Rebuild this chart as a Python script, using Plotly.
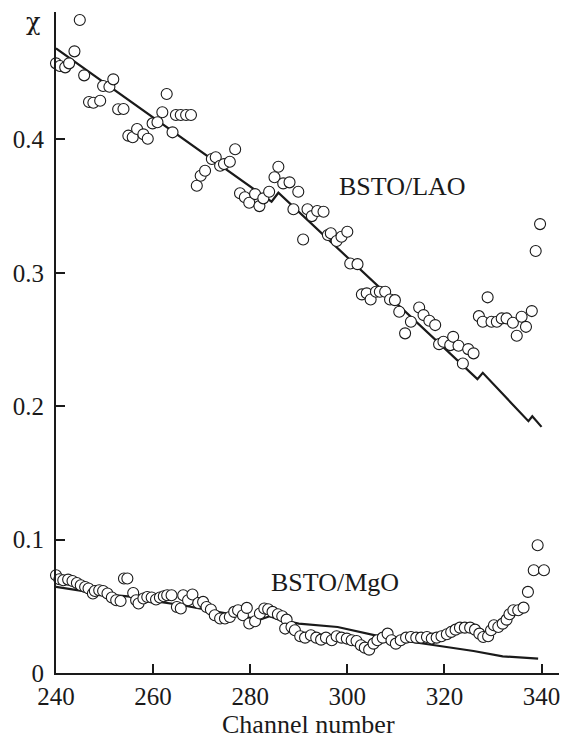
import plotly.graph_objects as go

# ---- BSTO/LAO measured points (channel, chi) ----
lao_ch = [240.0, 240.8, 241.9, 242.7, 243.8, 244.9, 245.8, 246.8, 247.7, 249.1,
          249.7, 251.0, 251.8, 252.8, 253.9, 254.9, 255.8, 256.7, 258.0, 258.9,
          259.9, 260.9, 261.9, 262.8, 264.0, 264.7, 265.7, 266.8, 267.8, 269.0,
          269.8, 270.7, 272.1, 272.9, 273.8, 274.6, 275.8, 276.9, 277.9, 278.9,
          279.8, 281.0, 281.9, 282.7, 283.9, 285.0, 285.8, 286.8, 288.1, 289.9,
          288.9, 290.9, 291.8, 292.7, 293.8, 295.1, 296.0, 296.6, 297.8, 298.8,
          300.0, 300.6, 302.1, 303.0, 304.0, 304.8, 305.9, 306.7, 307.8, 308.8,
          309.8, 310.7, 311.9, 313.1, 314.8, 315.7, 316.9, 318.1, 318.9, 319.8,
          321.2, 321.8, 322.9, 323.8, 324.9, 326.0, 327.1, 327.9, 328.9, 329.7,
          330.8, 331.8, 332.8, 334.1, 334.9, 335.9, 336.8, 338.0, 338.8, 339.7]
lao_val = [0.457, 0.455, 0.454, 0.457, 0.466, 0.4895, 0.448, 0.428, 0.4275, 0.429,
           0.440, 0.4395, 0.445, 0.4226, 0.4228, 0.4028, 0.4016, 0.4078, 0.4038, 0.4005,
           0.412, 0.4128, 0.4203, 0.434, 0.4053, 0.4183, 0.4183, 0.4183, 0.4183, 0.3653,
           0.3728, 0.3765, 0.3853, 0.3866, 0.3803, 0.3815, 0.3833, 0.3926, 0.3596, 0.3566,
           0.3525, 0.359, 0.350, 0.3558, 0.3608, 0.3716, 0.3795, 0.367, 0.3678, 0.3608,
           0.3476, 0.325, 0.3476, 0.3425, 0.3463, 0.3458, 0.3283, 0.3296, 0.3238, 0.327,
           0.3308, 0.307, 0.3065, 0.2838, 0.2846, 0.280, 0.2858, 0.2858, 0.2858, 0.280,
           0.2795, 0.2708, 0.2546, 0.2633, 0.274, 0.2683, 0.264, 0.2608, 0.2465, 0.2483,
           0.2458, 0.252, 0.2453, 0.232, 0.2428, 0.2396, 0.2675, 0.2633, 0.2816, 0.2633,
           0.2633, 0.2658, 0.2658, 0.2625, 0.2528, 0.267, 0.2595, 0.2713, 0.3163, 0.3365]

# ---- BSTO/LAO calculated curve ----
lao_fit_ch = [240.0, 284.4, 285.8, 326.8, 327.9, 337.3, 338.1, 340.0]
lao_fit_val = [0.4683, 0.3533, 0.360, 0.2203, 0.225, 0.1888, 0.1925, 0.1845]

# ---- BSTO/MgO measured points ----
mgo_ch = [240.0, 240.7, 241.5, 242.5, 243.4, 244.3, 245.1, 246.0, 246.7, 247.6,
          248.0, 248.9, 249.7, 250.6, 251.5, 252.4, 253.3, 254.0, 254.7, 255.9,
          256.5, 257.0, 258.0, 258.8, 259.7, 260.6, 261.4, 262.2, 262.9, 263.8,
          264.9, 265.7, 266.2, 267.2, 268.1, 269.3, 270.3, 271.0, 271.9, 272.7,
          273.8, 274.8, 275.8, 276.7, 277.5, 278.5, 279.3, 279.8, 281.0, 282.0,
          282.9, 283.7, 284.6, 285.7, 286.6, 287.5, 287.2, 288.5, 289.2, 290.3,
          291.3, 292.5, 293.6, 294.6, 295.6, 296.8, 297.8, 298.8, 299.9, 300.9,
          301.9, 302.8, 303.6, 304.5, 305.4, 306.2, 307.3, 308.3, 309.1, 310.0,
          311.0, 312.1, 313.1, 314.2, 315.2, 316.4, 317.4, 318.4, 319.4, 320.5,
          321.4, 322.3, 323.2, 324.2, 325.3, 326.3, 327.2, 328.0, 329.0, 329.6,
          330.2, 331.1, 332.0, 332.8, 333.4, 334.2, 335.2, 336.3, 337.2, 338.4,
          339.2, 340.5]
mgo_val = [0.0733, 0.0703, 0.0695, 0.0700, 0.0690, 0.0675, 0.0658, 0.0645, 0.0633, 0.0596,
           0.0615, 0.0620, 0.0615, 0.0596, 0.0566, 0.0545, 0.0540, 0.0708, 0.0708, 0.0600,
           0.0545, 0.0521, 0.0558, 0.0570, 0.0566, 0.0551, 0.0566, 0.0575, 0.0583, 0.0583,
           0.0495, 0.0483, 0.0583, 0.0545, 0.0588, 0.0525, 0.0533, 0.0495, 0.0476, 0.0433,
           0.0408, 0.0408, 0.0420, 0.0458, 0.0470, 0.0433, 0.0488, 0.0371, 0.0388, 0.0446,
           0.0483, 0.0478, 0.0458, 0.0440, 0.0425, 0.0400, 0.0333, 0.0345, 0.0320, 0.0275,
           0.0265, 0.0283, 0.0265, 0.0250, 0.0265, 0.0245, 0.0275, 0.0265, 0.0258, 0.0245,
           0.0240, 0.0208, 0.0190, 0.0175, 0.0220, 0.0245, 0.0265, 0.0295, 0.0245, 0.0220,
           0.0245, 0.0265, 0.0270, 0.0265, 0.0265, 0.0270, 0.0258, 0.0265, 0.0275, 0.0290,
           0.0308, 0.0325, 0.0340, 0.0340, 0.0340, 0.0325, 0.0295, 0.0270, 0.0275, 0.0320,
           0.0358, 0.0345, 0.0370, 0.0400, 0.0440, 0.0470, 0.0470, 0.0490, 0.0608, 0.0770,
           0.0958, 0.0770]

# ---- BSTO/MgO calculated curve ----
mgo_fit_ch = [240, 245, 250, 256, 260, 266, 270, 275, 280, 282, 284, 286, 290,
              298, 306, 312, 318, 326, 332, 339.3]
mgo_fit_val = [0.0645, 0.062, 0.059, 0.057, 0.054, 0.0508, 0.048, 0.045, 0.0415, 0.040,
               0.0425, 0.040, 0.037, 0.0345, 0.028, 0.024, 0.0208, 0.0165, 0.0125, 0.0108]

x_ticks = [240, 260, 280, 300, 320, 340]
y_ticks = [0, 0.1, 0.2, 0.3, 0.4]
y_tick_text = ["0", "0.1", "0.2", "0.3", "0.4"]

FONT = "Liberation Serif, Times New Roman, Times, serif"
INK = "#1a1a1a"

# plot box in pixels (used only to place the free-standing labels)
plot_l, plot_t, plot_w, plot_h = 56, 12, 564 - 56 - 5, 738 - 12 - 65

fig = go.Figure()
line_style = dict(color=INK, width=2.2)
marker_style = dict(symbol="circle", size=11, color="white",
                    line=dict(color=INK, width=1.1))

fig.add_trace(go.Scatter(x=lao_fit_ch, y=lao_fit_val, mode="lines", line=line_style,
                         showlegend=False, hoverinfo="skip"))
fig.add_trace(go.Scatter(x=mgo_fit_ch, y=mgo_fit_val, mode="lines", line=line_style,
                         showlegend=False, hoverinfo="skip"))
fig.add_trace(go.Scatter(x=lao_ch, y=lao_val, mode="markers", marker=marker_style,
                         showlegend=False, cliponaxis=False))
fig.add_trace(go.Scatter(x=mgo_ch, y=mgo_val, mode="markers", marker=marker_style,
                         showlegend=False, cliponaxis=False))

fig.add_annotation(x=311.4, y=0.365, xref="x", yref="y", text="BSTO/LAO",
                   showarrow=False, font=dict(family=FONT, size=26, color=INK))
fig.add_annotation(x=297.4, y=0.068, xref="x", yref="y", text="BSTO/MgO",
                   showarrow=False, font=dict(family=FONT, size=26, color=INK))
fig.add_annotation(x=(33 - plot_l) / plot_w, y=1 - (22 - plot_t) / plot_h,
                   xref="paper", yref="paper", text="χ",
                   showarrow=False, xanchor="center", yanchor="middle",
                   font=dict(family="DejaVu Serif", size=24, color=INK))
fig.add_annotation(x=0.502, y=1 - (724 - plot_t) / plot_h, xref="paper", yref="paper",
                   text="Channel number", showarrow=False, yanchor="middle",
                   font=dict(family=FONT, size=26, color=INK))

fig.update_layout(
    width=564, height=738,
    margin=dict(l=56, r=5, t=12, b=65),
    paper_bgcolor="white", plot_bgcolor="white",
    font=dict(family=FONT, size=25, color=INK),
    xaxis=dict(range=[240, 343.6], tickvals=x_ticks, ticks="inside", ticklen=9,
               tickwidth=1.5, tickcolor=INK, showline=True, linewidth=2.2,
               linecolor=INK, showgrid=False, zeroline=False, automargin=False,
               ticklabelstandoff=0,
               tickfont=dict(family=FONT, size=25, color=INK)),
    yaxis=dict(range=[0, 0.4955], tickvals=y_ticks, ticktext=y_tick_text, ticks="inside",
               ticklen=9, tickwidth=1.5, tickcolor=INK, showline=True,
               linewidth=2.2, linecolor=INK, showgrid=False, zeroline=False,
               automargin=False, ticklabelstandoff=5,
               tickfont=dict(family=FONT, size=25, color=INK)),
)

fig.write_html("out.html", config={"displayModeBar": False},
               post_script="document.body.style.margin='0';document.body.style.overflow='hidden';")
